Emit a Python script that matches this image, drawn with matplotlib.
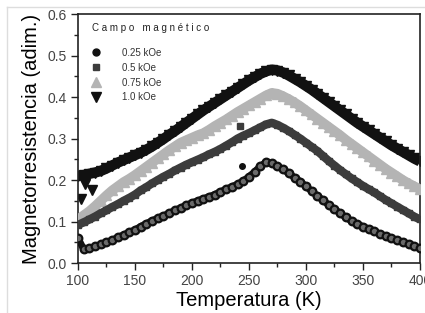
import matplotlib.pyplot as plt
import numpy as np

plt.rcParams['font.family'] = ['Liberation Sans', 'DejaVu Sans']

# temperature grid (K)
temp = np.arange(100, 401, 5)

mr_025 = [0.060, 0.033, 0.035, 0.040, 0.045, 0.050, 0.055, 0.062, 0.068, 0.074,
          0.080, 0.088, 0.095, 0.102, 0.108, 0.114, 0.120, 0.127, 0.133, 0.139,
          0.145, 0.150, 0.155, 0.160, 0.165, 0.172, 0.178, 0.184, 0.190, 0.198,
          0.208, 0.220, 0.233, 0.243, 0.240, 0.233, 0.226, 0.216, 0.206, 0.196,
          0.185, 0.173, 0.162, 0.151, 0.140, 0.130, 0.120, 0.110, 0.101, 0.094,
          0.088, 0.082, 0.076, 0.070, 0.065, 0.060, 0.055, 0.050, 0.045, 0.040,
          0.037]
mr_05 = [0.092, 0.098, 0.105, 0.112, 0.120, 0.127, 0.135, 0.142, 0.150, 0.157,
         0.165, 0.175, 0.183, 0.192, 0.200, 0.208, 0.215, 0.223, 0.230, 0.237,
         0.243, 0.249, 0.255, 0.262, 0.268, 0.275, 0.283, 0.291, 0.300, 0.307,
         0.313, 0.320, 0.327, 0.334, 0.338, 0.333, 0.326, 0.318, 0.309, 0.300,
         0.290, 0.280, 0.270, 0.258, 0.246, 0.235, 0.224, 0.214, 0.204, 0.195,
         0.186, 0.178, 0.170, 0.161, 0.152, 0.144, 0.136, 0.128, 0.120, 0.112,
         0.105]
mr_075 = [0.105, 0.115, 0.125, 0.137, 0.150, 0.163, 0.175, 0.185, 0.195, 0.203,
          0.212, 0.222, 0.232, 0.242, 0.252, 0.262, 0.272, 0.281, 0.290, 0.296,
          0.302, 0.308, 0.313, 0.321, 0.330, 0.338, 0.346, 0.355, 0.364, 0.372,
          0.380, 0.388, 0.396, 0.404, 0.410, 0.408, 0.402, 0.395, 0.387, 0.378,
          0.368, 0.358, 0.348, 0.338, 0.328, 0.318, 0.308, 0.297, 0.287, 0.277,
          0.267, 0.257, 0.247, 0.237, 0.227, 0.218, 0.209, 0.200, 0.192, 0.185,
          0.178]
mr_10 = [0.210, 0.212, 0.215, 0.218, 0.222, 0.228, 0.235, 0.242, 0.248, 0.254,
         0.260, 0.266, 0.273, 0.281, 0.290, 0.299, 0.309, 0.318, 0.328, 0.338,
         0.348, 0.358, 0.368, 0.377, 0.386, 0.395, 0.404, 0.413, 0.422, 0.431,
         0.440, 0.448, 0.456, 0.462, 0.466, 0.464, 0.459, 0.452, 0.444, 0.436,
         0.427, 0.418, 0.408, 0.398, 0.388, 0.378, 0.368, 0.358, 0.348, 0.338,
         0.329, 0.320, 0.311, 0.302, 0.293, 0.284, 0.276, 0.268, 0.260, 0.252,
         0.245]

# stray points off the main bands
out_025_t = [244]
out_025_v = [0.235]
out_05_t = [242]
out_05_v = [0.330]
out_10_t = [106, 112, 103]
out_10_v = [0.190, 0.175, 0.155]

labels = ['0.25 kOe', '0.5 kOe', '0.75 kOe', '1.0 kOe']

fig = plt.figure(figsize=(4.25, 3.13), dpi=100)
ax = fig.add_axes([0.1835, 0.1597, 0.8045, 0.7953])

# bands (thick line + markers to mimic dense data)
ax.plot(temp, mr_10, color='#111111', lw=7.5, solid_capstyle='butt', zorder=2)
ax.plot(temp, mr_10, 'v', color='#111111', ms=7, zorder=2)
ax.plot(out_10_t, out_10_v, 'v', color='#111111', ms=7, zorder=2)
ax.plot(temp, mr_075, color='#b4b4b4', lw=7, solid_capstyle='butt', zorder=3)
ax.plot(temp, mr_075, '^', color='#b4b4b4', ms=7, zorder=3)
ax.plot(temp, mr_05, color='#3c3c3c', lw=6, solid_capstyle='butt', zorder=4)
ax.plot(temp, mr_05, 's', color='#3c3c3c', ms=5, zorder=4)
ax.plot(out_05_t, out_05_v, 's', color='#3c3c3c', ms=4.5, zorder=4)
ax.plot(temp, mr_025, color='#111111', lw=5, solid_capstyle='butt', zorder=5)
ax.plot(temp, mr_025, 'o', mfc='#6a6a6a', mec='#111111', mew=1.6, ms=5.5, zorder=6)
ax.plot(out_025_t, out_025_v, 'o', color='#111111', ms=4, zorder=6)

# legend
ax.text(0.04, 0.945, 'C a m p o   m a g n é t i c o', transform=ax.transAxes,
        fontsize=7, color='#222222', ha='left', va='center')
h1, = ax.plot([], [], 'o', mfc='#111111', mec='#111111', ms=5, label=labels[0])
h2, = ax.plot([], [], 's', color='#3c3c3c', ms=4, label=labels[1])
h3, = ax.plot([], [], '^', color='#b4b4b4', ms=6.5, label=labels[2])
h4, = ax.plot([], [], 'v', color='#111111', ms=6.5, label=labels[3])
leg = ax.legend(handles=[h1, h2, h3, h4], loc='upper left', frameon=False,
                fontsize=7, labelspacing=0.5, handlelength=1.2, handletextpad=2.0,
                borderaxespad=0.0, bbox_to_anchor=(0.025, 0.88))
for t in leg.get_texts():
    t.set_color('#333333')

ax.set_xlim(100, 400)
ax.set_ylim(0.0, 0.6)
ax.set_xticks([100, 150, 200, 250, 300, 350, 400])
ax.set_xticks(np.arange(125, 400, 50), minor=True)
ax.set_yticks([0.0, 0.1, 0.2, 0.3, 0.4, 0.5, 0.6])
ax.set_yticks(np.arange(0.05, 0.6, 0.1), minor=True)
ax.set_yticklabels(['0.0', '0.1', '0.2', '0.3', '0.4', '0.5', '0.6'])
ax.tick_params(which='major', length=5, width=1, labelsize=10, colors='#222222',
               labelcolor='#444444', pad=3)
ax.tick_params(which='minor', length=3, width=1, colors='#222222')
for s in ax.spines.values():
    s.set_linewidth(1.2)
    s.set_color('#222222')

ax.set_xlabel('Temperatura (K)', fontsize=14.5, labelpad=2)
ax.set_ylabel('Magnetorresistencia (adim.)', fontsize=14.5, labelpad=5)

# faint frame from the source image
fig.add_artist(plt.Line2D([7 / 425, 1], [1 - 7 / 313, 1 - 7 / 313], color='#dddddd', lw=1))
fig.add_artist(plt.Line2D([7 / 425, 7 / 425], [0, 1 - 7 / 313], color='#dddddd', lw=1))

fig.savefig('out.png', dpi=100)
